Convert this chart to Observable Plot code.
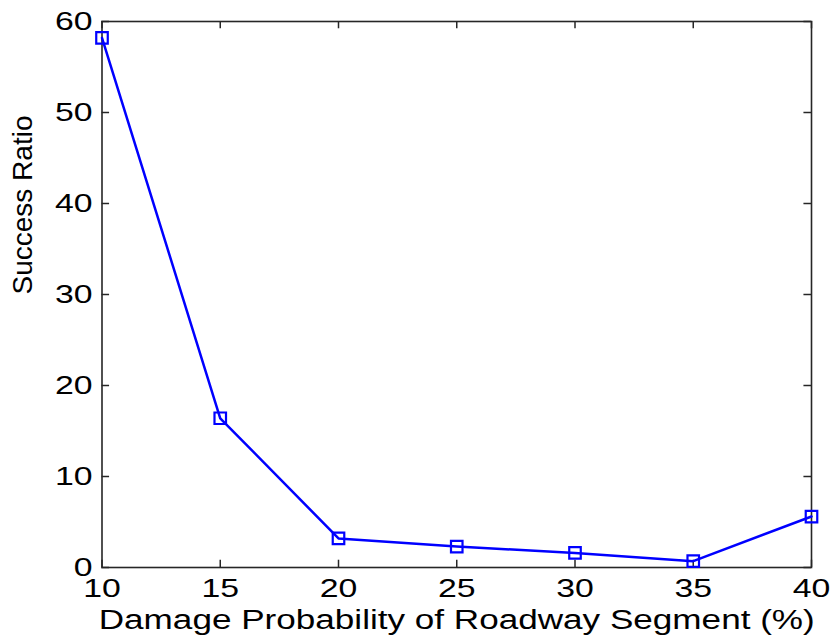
<!DOCTYPE html>
<html>
<head>
<meta charset="utf-8">
<script src="https://cdn.jsdelivr.net/npm/d3@7"></script>
<script src="https://cdn.jsdelivr.net/npm/@observablehq/plot@0.6"></script>
<style>
  html, body { margin: 0; padding: 0; background: #fff; }
  #chart svg { display: block; }
</style>
</head>
<body>
<div id="chart"></div>
<script>
const damageProb = [10, 15, 20, 25, 30, 35, 40];
const successRatio = [58.2, 16.4, 3.2, 2.3, 1.6, 0.7, 5.6];
const xTicks = [10, 15, 20, 25, 30, 35, 40];
const yTicks = [0, 10, 20, 30, 40, 50, 60];
const xTitle = "Damage Probability of Roadway Segment (%)";
const yTitle = "Success Ratio";

const data = damageProb.map((d, i) => ({x: d, y: successRatio[i]}));
const axisColor = "#262626";
const font = "Liberation Sans, Arial, sans-serif";

const chart = Plot.plot({
  width: 832,
  height: 637,
  marginLeft: 101.5,
  marginRight: 21,
  marginTop: 21,
  marginBottom: 70,
  style: { fontFamily: font, fontSize: "26px", color: "#000", background: "#fff" },
  x: { domain: [10, 40] },
  y: { domain: [0, 60] },
  marks: [
    Plot.frame({ stroke: axisColor, strokeWidth: 1.6 }),
    Plot.ruleX(xTicks, { x: d => d, y1: 0, y2: 0.8, stroke: axisColor, strokeWidth: 1.5 }),
    Plot.ruleX(xTicks, { x: d => d, y1: 60, y2: 59.2, stroke: axisColor, strokeWidth: 1.5 }),
    Plot.ruleY(yTicks, { y: d => d, x1: 10, x2: 10.32, stroke: axisColor, strokeWidth: 1.5 }),
    Plot.ruleY(yTicks, { y: d => d, x1: 40, x2: 39.68, stroke: axisColor, strokeWidth: 1.5 }),
    Plot.axisX(xTicks, { tickSize: 0, tickPadding: 11, label: null, fontSize: 26, fill: "#000", className: "stretch" }),
    Plot.axisY(yTicks, { tickSize: 0, tickPadding: 9.5, label: null, fontSize: 26, fill: "#000", className: "stretch" }),
    Plot.line(data, { x: "x", y: "y", stroke: "#0000ff", strokeWidth: 2.5 }),
    Plot.dot(data, { x: "x", y: "y", symbol: "square", r: 6.5, stroke: "#0000ff", strokeWidth: 2.2, fill: "none" }),
    Plot.text([xTitle], { text: d => d, frameAnchor: "bottom", dy: 61, fontSize: 27, fill: "#000", lineAnchor: "bottom", className: "stretch" }),
    Plot.text([yTitle], { text: d => d, frameAnchor: "left", dx: -70, rotate: -90, fontSize: 28, fill: "#000", lineAnchor: "bottom" })
  ]
});
document.getElementById("chart").appendChild(chart);

// widen glyphs horizontally like the reference rendering
d3.select(chart).selectAll(".stretch text").each(function() {
  const len = this.getComputedTextLength();
  if (len > 0) {
    this.setAttribute("textLength", (len * 1.3).toFixed(1));
    this.setAttribute("lengthAdjust", "spacingAndGlyphs");
  }
});
</script>
</body>
</html>
